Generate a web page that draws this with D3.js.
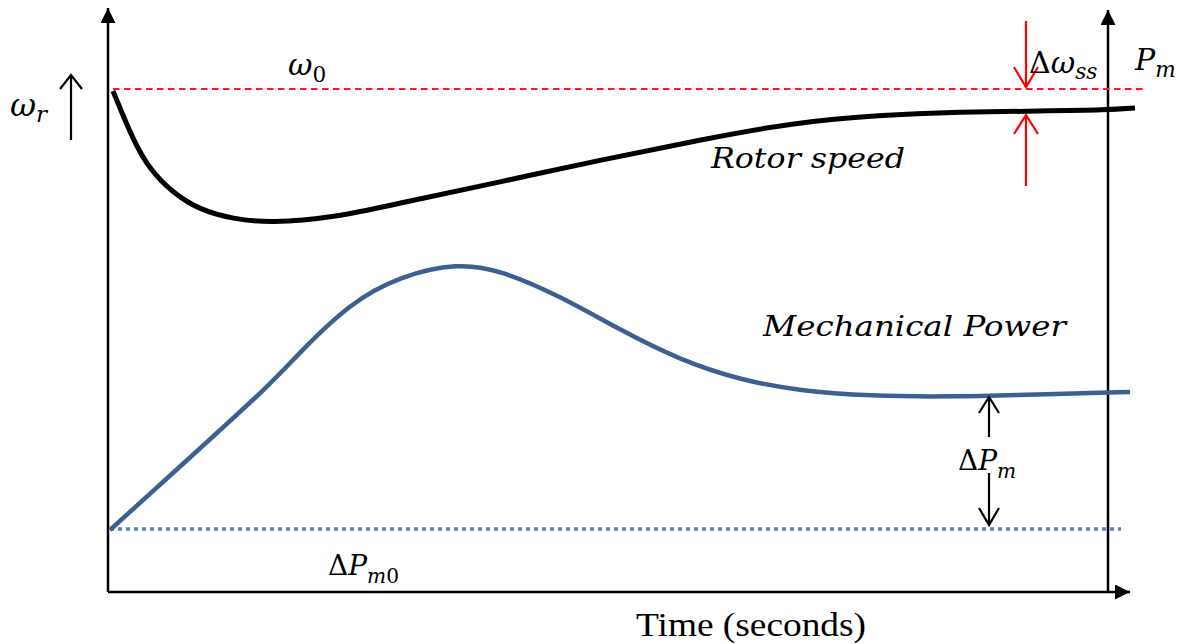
<!DOCTYPE html>
<html>
<head>
<meta charset="utf-8">
<script src="https://cdn.jsdelivr.net/npm/d3@7"></script>
<style>
  body { margin: 0; background: #fff; }
  .math { font-family: "DejaVu Serif", serif; font-style: italic; }
  .up { font-style: normal; }
</style>
</head>
<body>
<script>
        var w = 1181;
        var h = 644;

        // time axis in arbitrary units (right axis sits at 1000)
        var rotorTime = [5, 25, 42, 65, 92, 125, 162, 225, 292, 392, 492, 592, 682, 772, 852, 932, 1000, 1027];
        var rotorSpeed = [501, 452, 422, 399, 382, 373, 369, 374, 389, 410, 432, 452, 469, 477, 480, 481, 482, 484];

        var powerTime = [2, 82, 162, 192, 242, 292, 350, 392, 452, 512, 572, 632, 692, 762, 842, 942, 1022];
        var mechPower = [62, 134.5, 207, 240, 289, 316, 329, 322, 296, 262, 232, 212, 201, 196, 195, 198, 200];

        var omega0 = 503;     // reference speed
        var pm0 = 63;         // initial mechanical power

        var xScale = d3.scaleLinear().domain([0, 1000]).range([108, 1108]);
        var yScale = d3.scaleLinear().domain([0, 584]).range([592, 8]);

        var svg = d3.select("body").append("svg").attr("width", w).attr("height", h);

        var defs = svg.append("defs");
        defs.append("marker")
            .attr("id", "head")
            .attr("viewBox", "0 0 10 10")
            .attr("refX", 10).attr("refY", 5)
            .attr("markerUnits", "userSpaceOnUse")
            .attr("markerWidth", 17).attr("markerHeight", 15)
            .attr("orient", "auto")
            .append("path").attr("d", "M0,0L10,5L0,10Z").attr("fill", "#000");

        function arrowLine(x1, y1, x2, y2) {
            return svg.append("line")
                .attr("x1", xScale(x1)).attr("y1", yScale(y1))
                .attr("x2", xScale(x2)).attr("y2", yScale(y2))
                .attr("stroke", "#000").attr("stroke-width", 2.5)
                .attr("marker-end", "url(#head)");
        }

        //Axes (left, right, bottom) with solid arrowheads
        arrowLine(0, 0, 0, 584);
        arrowLine(1000, 0, 1000, 582);
        arrowLine(0, 0, 1022, 0);

        //Reference lines
        svg.append("line")
            .attr("x1", xScale(5)).attr("x2", xScale(1039))
            .attr("y1", yScale(omega0)).attr("y2", yScale(omega0))
            .attr("stroke", "#ff1a1a").attr("stroke-width", 2)
            .attr("stroke-dasharray", "6.5,4.5");

        svg.append("line")
            .attr("x1", xScale(2)).attr("x2", xScale(1013))
            .attr("y1", yScale(pm0)).attr("y2", yScale(pm0))
            .attr("stroke", "#5082c4").attr("stroke-width", 3.5)
            .attr("stroke-dasharray", "4,4");

        //Curves
        var line = d3.line()
            .x((d) => xScale(d[0]))
            .y((d) => yScale(d[1]))
            .curve(d3.curveBasis);

        svg.append("path")
            .datum(d3.zip(rotorTime, rotorSpeed))
            .attr("d", line)
            .attr("fill", "none")
            .attr("stroke", "#000")
            .attr("stroke-width", 5);

        svg.append("path")
            .datum(d3.zip(powerTime, mechPower))
            .attr("d", line)
            .attr("fill", "none")
            .attr("stroke", "#3c6091")
            .attr("stroke-width", 4.5);

        //Open arrows for annotations
        function openArrow(xv, yFrom, yTo, color, half, len) {
            var px = xScale(xv), y1 = yScale(yFrom), y2 = yScale(yTo);
            var dir = y2 > y1 ? -1 : 1;
            svg.append("path")
                .attr("d", "M" + px + "," + y1 + "L" + px + "," + y2 +
                      "M" + (px - half) + "," + (y2 + dir * len) + "L" + px + "," + y2 +
                      "L" + (px + half) + "," + (y2 + dir * len))
                .attr("fill", "none")
                .attr("stroke", color)
                .attr("stroke-width", 2.2);
        }

        openArrow(-37, 452, 517, "#000", 11, 14);        // omega_r arrow
        openArrow(918, 571, 505, "#ff0000", 12, 20);     // delta omega down
        openArrow(918, 406, 477, "#ff0000", 12, 19);     // delta omega up
        openArrow(881, 155, 195, "#000", 10, 16);        // delta Pm up
        openArrow(881, 119, 67, "#000", 10, 17);         // delta Pm down

        //Labels
        function mathLabel(xv, yv, parts, size) {
            var t = svg.append("text").attr("class", "math")
                .attr("x", xScale(xv)).attr("y", yScale(yv))
                .attr("font-size", size);
            parts.forEach((p) => {
                var s = t.append("tspan").text(p.t);
                if (p.up) s.attr("class", "up");
                if (p.sub) s.attr("font-size", size * 0.72);
                if (p.dy) s.attr("dy", p.dy);
            });
            return t;
        }

        mathLabel(180, 517, [{t: "ω"}, {t: "0", up: true, sub: true, dy: 7}], 30);
        mathLabel(-98, 476, [{t: "ω"}, {t: "r", sub: true, dy: 6}], 32);
        mathLabel(921, 519, [{t: "Δ", up: true}, {t: "ω"}, {t: "ss", sub: true, dy: 6}], 30);
        mathLabel(1027, 522, [{t: "P"}, {t: "m", sub: true, dy: 7}], 30);
        mathLabel(850, 122, [{t: "Δ", up: true}, {t: "P"}, {t: "m", sub: true, dy: 8}], 28);
        mathLabel(220, 17, [{t: "Δ", up: true}, {t: "P"}, {t: "m", sub: true, dy: 8}, {t: "0", up: true, sub: true}], 28);

        svg.append("text").attr("class", "math")
            .attr("x", xScale(603)).attr("y", yScale(424))
            .attr("font-size", 28)
            .attr("textLength", 194).attr("lengthAdjust", "spacingAndGlyphs")
            .text("Rotor speed");

        svg.append("text").attr("class", "math")
            .attr("x", xScale(655)).attr("y", yScale(256))
            .attr("font-size", 28)
            .attr("textLength", 303).attr("lengthAdjust", "spacingAndGlyphs")
            .text("Mechanical Power");

        svg.append("text")
            .attr("x", 636).attr("y", 636)
            .attr("font-family", "Liberation Serif, serif")
            .attr("font-size", 33)
            .attr("textLength", 230).attr("lengthAdjust", "spacingAndGlyphs")
            .text("Time (seconds)");
</script>
</body>
</html>
